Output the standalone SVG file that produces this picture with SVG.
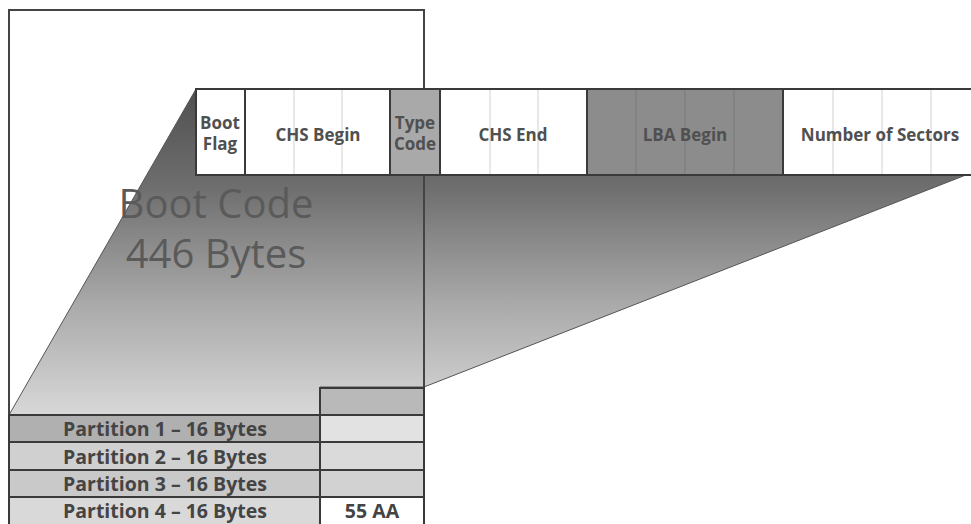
<svg xmlns="http://www.w3.org/2000/svg" width="971" height="524" viewBox="0 0 971 524">
<style>
.lbl{font-family:"Open Sans","Liberation Sans",sans-serif;font-weight:bold;fill:#505050;text-anchor:middle;font-size:17px}
.big{font-family:"Open Sans","Liberation Sans",sans-serif;font-size:40px;fill:#5a5a5a;text-anchor:middle}
.pt{font-family:"Open Sans","Liberation Sans",sans-serif;font-weight:bold;font-size:19.5px;fill:#444;text-anchor:middle}
.major{stroke:#3a3a3a;stroke-width:2;fill:none}
.minor{stroke:#d0d0d0;stroke-width:1}
.cell{stroke:#3a3a3a;stroke-width:2}
</style>
<defs>
<linearGradient id="fan" x1="0" y1="89" x2="0" y2="415" gradientUnits="userSpaceOnUse">
<stop offset="0" stop-color="#505050"/>
<stop offset="0.3" stop-color="#6e6e6e"/>
<stop offset="0.65" stop-color="#a8a8a8"/>
<stop offset="1" stop-color="#d8d8d8"/>
</linearGradient>
</defs>
<rect width="971" height="524" fill="#fff"/>
<g id="fan-projection">
<polygon points="196,89 971,89 971,173 424,387 320,387 320,415 9,415" fill="url(#fan)" stroke="#555" stroke-width="1"/>
</g>
<g id="mbr">
<polyline points="9,524 9,10 424,10 424,524" fill="none" stroke="#444" stroke-width="2"/>
</g>
<g id="boot-code">
<text class="big" x="216" y="218">Boot Code</text>
<text class="big" x="216" y="268">446 Bytes</text>
</g>
<g id="partition-entry">
<rect x="196" y="89" width="790" height="86" fill="#fff"/>
<rect x="390" y="89" width="50" height="86" fill="#a9a9a9"/>
<rect x="587" y="89" width="196" height="86" fill="#8c8c8c"/>
<g class="minor">
<line x1="294" y1="90" x2="294" y2="174"/>
<line x1="342" y1="90" x2="342" y2="174"/>
<line x1="490" y1="90" x2="490" y2="174"/>
<line x1="538" y1="90" x2="538" y2="174"/>
<line x1="833" y1="90" x2="833" y2="174"/>
<line x1="882" y1="90" x2="882" y2="174"/>
<line x1="931" y1="90" x2="931" y2="174"/>
</g>
<g stroke="#7a7a7a" stroke-width="1">
<line x1="636" y1="90" x2="636" y2="174"/>
<line x1="685" y1="90" x2="685" y2="174"/>
<line x1="734" y1="90" x2="734" y2="174"/>
</g>
<g class="major">
<rect x="196" y="89" width="790" height="86"/>
<line x1="245" y1="89" x2="245" y2="175"/>
<line x1="390" y1="89" x2="390" y2="175"/>
<line x1="440" y1="89" x2="440" y2="175"/>
<line x1="587" y1="89" x2="587" y2="175"/>
<line x1="783" y1="89" x2="783" y2="175"/>
</g>
<g id="field-boot-flag"><text class="lbl" x="220" y="129">Boot</text><text class="lbl" x="220" y="150">Flag</text></g>
<g id="field-chs-begin"><text class="lbl" x="318" y="141">CHS Begin</text></g>
<g id="field-type-code"><text class="lbl" x="415" y="129">Type</text><text class="lbl" x="415" y="150">Code</text></g>
<g id="field-chs-end"><text class="lbl" x="513" y="141">CHS End</text></g>
<g id="field-lba-begin"><text class="lbl" x="685" y="141">LBA Begin</text></g>
<g id="field-sectors"><text class="lbl" x="880" y="141">Number of Sectors</text></g>
</g>
<g id="partition-table">
<rect class="cell" x="320" y="388" width="104" height="27" fill="#b9b9b9"/>
<rect class="cell" x="9" y="415" width="311" height="27" fill="#b0b0b0"/>
<rect class="cell" x="320" y="415" width="104" height="27" fill="#e2e2e2"/>
<rect class="cell" x="9" y="442" width="311" height="28" fill="#d0d0d0"/>
<rect class="cell" x="320" y="442" width="104" height="28" fill="#dadada"/>
<rect class="cell" x="9" y="470" width="311" height="27" fill="#c9c9c9"/>
<rect class="cell" x="320" y="470" width="104" height="27" fill="#d2d2d2"/>
<rect class="cell" x="9" y="497" width="311" height="29" fill="#d9d9d9"/>
<rect class="cell" x="320" y="497" width="104" height="29" fill="#fff"/>
<text class="pt" x="165" y="436">Partition 1 – 16 Bytes</text>
<text class="pt" x="165" y="464">Partition 2 – 16 Bytes</text>
<text class="pt" x="165" y="491">Partition 3 – 16 Bytes</text>
<text class="pt" x="165" y="518">Partition 4 – 16 Bytes</text>
<text class="pt" x="372" y="518">55 AA</text>
</g>
</svg>
